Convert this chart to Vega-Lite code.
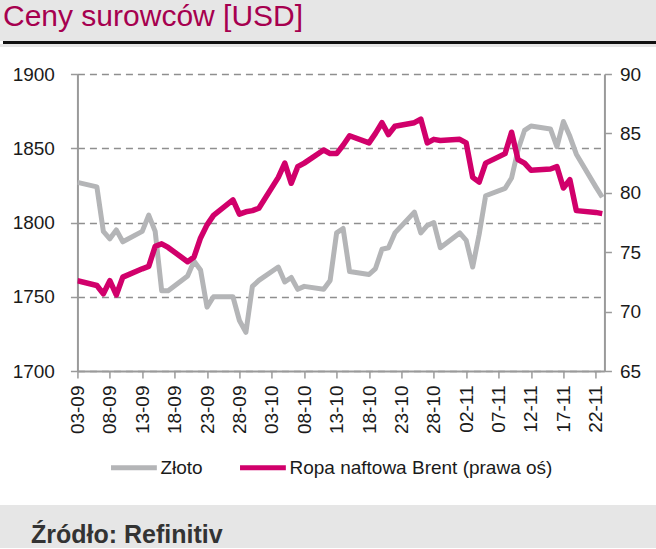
{
  "$schema": "https://vega.github.io/schema/vega-lite/v6.json",
  "padding": 0,
  "background": "white",
  "columns": 1,
  "center": true,
  "bounds": "full",
  "spacing": 0,
  "resolve": {"scale": {"color": "independent"}, "legend": {"color": "independent"}},
  "config": {
    "view": {"stroke": null},
    "font": "Liberation Sans",
    "axis": {"labelFont": "Liberation Sans", "labelFontSize": 19, "labelColor": "#1a1a1a", "domainColor": "#9a9a9a", "tickColor": "#9a9a9a", "domainWidth": 2, "tickWidth": 1.5, "tickSize": 7, "labelOverlap": false, "labelFlush": false, "title": null},
    "legend": {"labelFont": "Liberation Sans", "labelFontSize": 19, "labelColor": "#1a1a1a", "labelLimit": 300}
  },
  "concat": [
    {
      "width": 718,
      "height": 41,
      "view": {"fill": "#e6e6e6", "stroke": null},
      "data": {"values": []},
      "mark": "point",
      "title": {"text": "Ceny surowców [USD]", "font": "Liberation Sans", "fontSize": 30, "fontWeight": "normal", "color": "#a6004f", "anchor": "start", "frame": "group", "offset": -32, "dx": 3}
    },
    {
      "width": 712,
      "height": 3,
      "view": {"fill": "#111111", "stroke": null},
      "data": {"values": []},
      "mark": "point"
    },
    {
      "width": 718,
      "height": 3,
      "view": {"fill": "#e6e6e6", "stroke": null},
      "data": {"values": []},
      "mark": "point"
    },
    {
      "width": 527,
      "height": 297,
      "title": {"text": " ", "fontSize": 1, "frame": "group", "offset": 17},
      "data": {"values": [
        {"d": "2021-09-03", "gold": 1827, "brent": 72.6},
        {"d": "2021-09-06", "gold": 1824, "brent": 72.2},
        {"d": "2021-09-07", "gold": 1794, "brent": 71.5},
        {"d": "2021-09-08", "gold": 1789, "brent": 72.6},
        {"d": "2021-09-09", "gold": 1795, "brent": 71.4},
        {"d": "2021-09-10", "gold": 1787, "brent": 72.9},
        {"d": "2021-09-13", "gold": 1794, "brent": 73.6},
        {"d": "2021-09-14", "gold": 1805, "brent": 73.8},
        {"d": "2021-09-15", "gold": 1794, "brent": 75.5},
        {"d": "2021-09-16", "gold": 1754, "brent": 75.7},
        {"d": "2021-09-17", "gold": 1754, "brent": 75.4},
        {"d": "2021-09-20", "gold": 1764, "brent": 74.2},
        {"d": "2021-09-21", "gold": 1774, "brent": 74.6},
        {"d": "2021-09-22", "gold": 1768, "brent": 76.2},
        {"d": "2021-09-23", "gold": 1743, "brent": 77.3},
        {"d": "2021-09-24", "gold": 1750, "brent": 78.1},
        {"d": "2021-09-27", "gold": 1750, "brent": 79.4},
        {"d": "2021-09-28", "gold": 1734, "brent": 78.2},
        {"d": "2021-09-29", "gold": 1726, "brent": 78.4},
        {"d": "2021-09-30", "gold": 1757, "brent": 78.5},
        {"d": "2021-10-01", "gold": 1761, "brent": 78.7},
        {"d": "2021-10-04", "gold": 1770, "brent": 81.3},
        {"d": "2021-10-05", "gold": 1760, "brent": 82.5},
        {"d": "2021-10-06", "gold": 1763, "brent": 80.8},
        {"d": "2021-10-07", "gold": 1755, "brent": 82.2},
        {"d": "2021-10-08", "gold": 1757, "brent": 82.5},
        {"d": "2021-10-11", "gold": 1755, "brent": 83.6},
        {"d": "2021-10-12", "gold": 1761, "brent": 83.3},
        {"d": "2021-10-13", "gold": 1793, "brent": 83.3},
        {"d": "2021-10-14", "gold": 1796, "brent": 84.0},
        {"d": "2021-10-15", "gold": 1767, "brent": 84.8},
        {"d": "2021-10-18", "gold": 1765, "brent": 84.2},
        {"d": "2021-10-19", "gold": 1769, "brent": 85.0},
        {"d": "2021-10-20", "gold": 1782, "brent": 85.9},
        {"d": "2021-10-21", "gold": 1783, "brent": 84.9},
        {"d": "2021-10-22", "gold": 1793, "brent": 85.6},
        {"d": "2021-10-25", "gold": 1807, "brent": 85.9},
        {"d": "2021-10-26", "gold": 1793, "brent": 86.2},
        {"d": "2021-10-27", "gold": 1798, "brent": 84.2},
        {"d": "2021-10-28", "gold": 1800, "brent": 84.5},
        {"d": "2021-10-29", "gold": 1783, "brent": 84.4},
        {"d": "2021-11-01", "gold": 1793, "brent": 84.5},
        {"d": "2021-11-02", "gold": 1788, "brent": 84.2},
        {"d": "2021-11-03", "gold": 1770, "brent": 81.3},
        {"d": "2021-11-04", "gold": 1792, "brent": 80.9},
        {"d": "2021-11-05", "gold": 1818, "brent": 82.5},
        {"d": "2021-11-08", "gold": 1823, "brent": 83.3},
        {"d": "2021-11-09", "gold": 1830, "brent": 85.1},
        {"d": "2021-11-10", "gold": 1849, "brent": 82.8},
        {"d": "2021-11-11", "gold": 1862, "brent": 82.5},
        {"d": "2021-11-12", "gold": 1865, "brent": 81.9},
        {"d": "2021-11-15", "gold": 1863, "brent": 82.0},
        {"d": "2021-11-16", "gold": 1851, "brent": 82.2},
        {"d": "2021-11-17", "gold": 1868, "brent": 80.4},
        {"d": "2021-11-18", "gold": 1858, "brent": 81.1},
        {"d": "2021-11-19", "gold": 1846, "brent": 78.5},
        {"d": "2021-11-22", "gold": 1824, "brent": 78.35},
        {"d": "2021-11-23", "gold": 1817, "brent": 78.25}
      ]},
      "encoding": {
        "x": {
          "field": "d",
          "type": "temporal",
          "scale": {"type": "utc", "domain": [{"year": 2021, "month": 9, "date": 3, "utc": true}, {"year": 2021, "month": 11, "date": 23, "hours": 8, "utc": true}]},
          "axis": {
            "format": "%d-%m",
            "labelAngle": 270,
            "labelPadding": 7,
            "grid": false,
            "values": [
              {"year": 2021, "month": 9, "date": 3, "utc": true},
              {"year": 2021, "month": 9, "date": 8, "utc": true},
              {"year": 2021, "month": 9, "date": 13, "utc": true},
              {"year": 2021, "month": 9, "date": 18, "utc": true},
              {"year": 2021, "month": 9, "date": 23, "utc": true},
              {"year": 2021, "month": 9, "date": 28, "utc": true},
              {"year": 2021, "month": 10, "date": 3, "utc": true},
              {"year": 2021, "month": 10, "date": 8, "utc": true},
              {"year": 2021, "month": 10, "date": 13, "utc": true},
              {"year": 2021, "month": 10, "date": 18, "utc": true},
              {"year": 2021, "month": 10, "date": 23, "utc": true},
              {"year": 2021, "month": 10, "date": 28, "utc": true},
              {"year": 2021, "month": 11, "date": 2, "utc": true},
              {"year": 2021, "month": 11, "date": 7, "utc": true},
              {"year": 2021, "month": 11, "date": 12, "utc": true},
              {"year": 2021, "month": 11, "date": 17, "utc": true},
              {"year": 2021, "month": 11, "date": 22, "utc": true}
            ]
          }
        }
      },
      "layer": [
        {
          "mark": {"type": "line", "strokeWidth": 5, "strokeJoin": "round", "clip": true},
          "encoding": {
            "y": {
              "field": "gold",
              "type": "quantitative",
              "scale": {"domain": [1700, 1900], "zero": false, "nice": false},
              "axis": {"orient": "left", "format": "d", "values": [1700, 1750, 1800, 1850, 1900], "labelPadding": 16, "grid": true, "gridDash": [7, 5], "gridColor": "#8f8f8f", "gridWidth": 1.5}
            },
            "color": {
              "datum": "Złoto",
              "scale": {"domain": ["Złoto", "Ropa naftowa Brent (prawa oś)"], "range": ["#b4b5b7", "#d1006b"]},
              "legend": {"title": null, "orient": "none", "legendX": 4, "legendY": 341, "padding": 27, "direction": "horizontal", "symbolType": "stroke", "symbolSize": 2100, "symbolStrokeWidth": 5, "labelOffset": 1, "columnPadding": 26}
            }
          }
        },
        {
          "mark": {"type": "line", "strokeWidth": 5.5, "strokeJoin": "round", "clip": true},
          "encoding": {
            "y": {
              "field": "brent",
              "type": "quantitative",
              "scale": {"domain": [65, 90], "zero": false, "nice": false},
              "axis": {"orient": "right", "values": [65, 70, 75, 80, 85, 90], "labelPadding": 8, "grid": false}
            },
            "color": {"datum": "Ropa naftowa Brent (prawa oś)"}
          }
        }
      ],
      "resolve": {"scale": {"y": "independent"}}
    },
    {
      "width": 718,
      "height": 43,
      "view": {"fill": "#e6e6e6", "stroke": null},
      "data": {"values": []},
      "mark": "point",
      "title": {"text": "Źródło: Refinitiv", "font": "Liberation Sans", "fontSize": 25, "fontWeight": "bold", "color": "#333333", "anchor": "start", "frame": "group", "offset": -43, "dx": 31}
    }
  ]
}
